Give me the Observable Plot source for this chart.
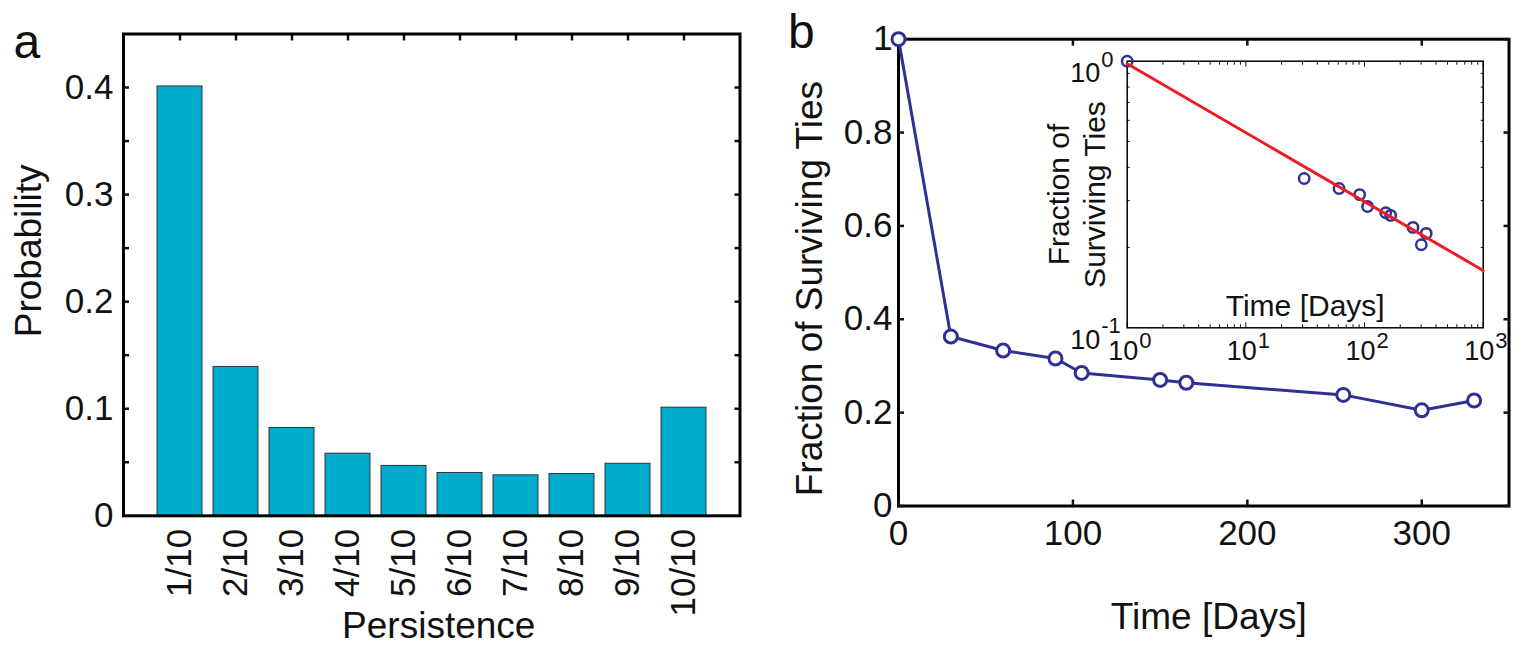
<!DOCTYPE html>
<html>
<head>
<meta charset="utf-8">
<script src="https://cdn.jsdelivr.net/npm/d3@7"></script>
<script src="https://cdn.jsdelivr.net/npm/@observablehq/plot@0.6"></script>
<style>
  html, body { margin: 0; padding: 0; background: #fff; }
  #root { position: relative; width: 1523px; height: 646px; overflow: hidden; }
  #root > svg { position: absolute; }
</style>
</head>
<body>
<div id="root"></div>
<script>
// ---------- Panel a data ----------
const persistence = ["1/10", "2/10", "3/10", "4/10", "5/10", "6/10", "7/10", "8/10", "9/10", "10/10"];
const probability = [0.401, 0.139, 0.082, 0.058, 0.0466, 0.040, 0.0378, 0.039, 0.0486, 0.101];
const probTicks = [0, 0.1, 0.2, 0.3, 0.4];
const probTickLabels = ["0", "0.1", "0.2", "0.3", "0.4"];
const probMinorTicks = [0.05, 0.1, 0.15, 0.2, 0.25, 0.3, 0.35, 0.4];

// ---------- Panel b data ----------
const days = [0, 30, 60, 90, 105, 150, 165, 255, 300, 330];
const surviving = [1, 0.363, 0.333, 0.316, 0.285, 0.27, 0.264, 0.238, 0.205, 0.226];
const dayTicks = [0, 100, 200, 300];
const dayTickLabels = ["0", "100", "200", "300"];
const survTicks = [0, 0.2, 0.4, 0.6, 0.8, 1];
const survTickLabels = ["0", "0.2", "0.4", "0.6", "0.8", "1"];

// ---------- Inset data (log-log) ----------
const insetDays = [1, 31, 61, 91, 106, 151, 166, 256, 301, 331];
const fitDays = [1, 1000];
const fitSurviving = [0.978, 0.164];
const logXTicks = [1, 10, 100, 1000];
const logXExponents = ["0", "1", "2", "3"];
const logXMinor = [2, 3, 4, 5, 6, 7, 8, 9, 20, 30, 40, 50, 60, 70, 80, 90, 200, 300, 400, 500, 600, 700, 800, 900];
const logYTicks = [0.1, 1];
const logYExponents = ["-1", "0"];
const logYMinor = [0.2, 0.3, 0.4, 0.5, 0.6, 0.7, 0.8, 0.9];

const FONT = '"Liberation Sans", Arial, Helvetica, sans-serif';
const INK = "#111";
const BAR = "#00abce";
const BLUE = "#2e3192";
const RED = "#ed1c24";

const root = document.getElementById("root");
function place(svg, left, top) {
  svg.style.left = left + "px";
  svg.style.top = top + "px";
  root.appendChild(svg);
}

// ================= Panel a =================
const barsData = persistence.map((c, i) => ({c, p: probability[i]}));
const A = Plot.plot({
  width: 760, height: 646,
  marginLeft: 123, marginRight: 20.5, marginTop: 33.5, marginBottom: 130.7,
  style: {fontFamily: FONT, color: INK, background: "transparent"},
  x: {type: "band", domain: persistence, paddingInner: 0.2, paddingOuter: 0.6},
  y: {domain: [0, 0.45]},
  marks: [
    Plot.barY(barsData, {x: "c", y: "p", fill: BAR, stroke: "#333", strokeWidth: 1}),
    Plot.axisY({anchor: "left", ticks: probMinorTicks, tickSize: -6, strokeWidth: 2.5, fill: "none", label: null}),
    Plot.axisY({anchor: "right", ticks: probMinorTicks, tickSize: -6, strokeWidth: 2.5, fill: "none", label: null}),
    Plot.axisX({anchor: "top", tickSize: -6, strokeWidth: 2.5, fill: "none", label: null}),
    Plot.axisY({anchor: "left", ticks: probTicks, tickSize: 0, tickPadding: 10,
      tickFormat: d => probTickLabels[probTicks.indexOf(d)], fontSize: 35, label: null}),
    Plot.text(persistence, {x: d => d, text: d => d, frameAnchor: "bottom", rotate: -90,
      textAnchor: "end", lineAnchor: "middle", dy: 13, fontSize: 35}),
    Plot.frame({stroke: "#000", strokeWidth: 3}),
    Plot.text(["Probability"], {text: d => d, frameAnchor: "left", rotate: -90, textAnchor: "middle",
      lineAnchor: "top", dx: -109, dy: -24, fontSize: 37}),
    Plot.text(["Persistence"], {text: d => d, frameAnchor: "bottom", textAnchor: "middle",
      lineAnchor: "top", dx: 7, dy: 96, fontSize: 37}),
    Plot.text(["a"], {text: d => d, frameAnchor: "top-left", textAnchor: "start",
      lineAnchor: "bottom", dx: -110, dy: 24, fontSize: 48})
  ]
});
place(A, 0, 0);

// ================= Panel b =================
const survData = days.map((t, i) => ({t, s: surviving[i]}));
const B = Plot.plot({
  width: 763, height: 646,
  marginLeft: 138, marginRight: 14.5, marginTop: 38.7, marginBottom: 140.5,
  style: {fontFamily: FONT, color: INK, background: "transparent"},
  x: {domain: [0, 350]},
  y: {domain: [0, 1]},
  marks: [
    Plot.frame({stroke: "#000", strokeWidth: 3}),
    Plot.axisY({anchor: "left", ticks: survTicks, tickSize: -6, strokeWidth: 2.5, fill: "none", label: null}),
    Plot.axisY({anchor: "right", ticks: survTicks, tickSize: -6, strokeWidth: 2.5, fill: "none", label: null}),
    Plot.axisX({anchor: "top", ticks: dayTicks, tickSize: -6, strokeWidth: 2.5, fill: "none", label: null}),
    Plot.axisX({anchor: "bottom", ticks: dayTicks, tickSize: -6, strokeWidth: 2.5, fill: "none", label: null}),
    Plot.axisY({anchor: "left", ticks: survTicks, tickSize: 0, tickPadding: 6,
      tickFormat: d => survTickLabels[survTicks.indexOf(d)], fontSize: 35, label: null}),
    Plot.axisX({anchor: "bottom", ticks: dayTicks, tickSize: 0, tickPadding: 14,
      tickFormat: d => dayTickLabels[dayTicks.indexOf(d)], fontSize: 35, label: null}),
    Plot.line(survData, {x: "t", y: "s", stroke: BLUE, strokeWidth: 3}),
    Plot.dot(survData, {x: "t", y: "s", r: 6.5, fill: "#fff", stroke: BLUE, strokeWidth: 3}),
    Plot.text(["Fraction of Surviving Ties"], {text: d => d, frameAnchor: "left", rotate: -90,
      textAnchor: "middle", lineAnchor: "top", dx: -103, dy: 16, fontSize: 37}),
    Plot.text(["Time [Days]"], {text: d => d, frameAnchor: "bottom", textAnchor: "middle",
      lineAnchor: "top", dx: 5, dy: 97, fontSize: 37}),
    Plot.text(["b"], {text: d => d, frameAnchor: "top-left", textAnchor: "start",
      lineAnchor: "bottom", dx: -110.5, dy: 8.3, fontSize: 48})
  ]
});
place(B, 760, 0);

// ================= Inset =================
const insetData = insetDays.map((t, i) => ({t, s: surviving[i]}));
const fitData = fitDays.map((t, i) => ({t, s: fitSurviving[i]}));
const C = Plot.plot({
  width: 523, height: 400,
  marginLeft: 126.7, marginRight: 40.3, marginTop: 60.7, marginBottom: 72.7,
  style: {fontFamily: FONT, color: INK, background: "transparent"},
  x: {type: "log", domain: [1, 1000]},
  y: {type: "log", domain: [0.1, 1]},
  marks: [
    Plot.frame({fill: "#fff", stroke: "none"}),
    Plot.axisX({anchor: "bottom", ticks: logXTicks, tickSize: -5, strokeWidth: 1, fill: "none", label: null}),
    Plot.axisX({anchor: "top", ticks: logXTicks, tickSize: -5, strokeWidth: 1, fill: "none", label: null}),
    Plot.axisX({anchor: "bottom", ticks: logXMinor, tickSize: -3, strokeWidth: 1, fill: "none", label: null}),
    Plot.axisX({anchor: "top", ticks: logXMinor, tickSize: -3, strokeWidth: 1, fill: "none", label: null}),
    Plot.axisY({anchor: "left", ticks: logYMinor, tickSize: -3, strokeWidth: 1, fill: "none", label: null}),
    Plot.axisY({anchor: "right", ticks: logYMinor, tickSize: -3, strokeWidth: 1, fill: "none", label: null}),
    Plot.frame({stroke: "#000", strokeWidth: 1.5}),
    Plot.text(logXTicks, {x: d => d, text: () => "10", frameAnchor: "bottom", textAnchor: "middle",
      lineAnchor: "top", dx: -4, dy: 13, fontSize: 27}),
    Plot.text(logXTicks, {x: d => d, text: d => logXExponents[logXTicks.indexOf(d)], frameAnchor: "bottom",
      textAnchor: "start", lineAnchor: "top", dx: 12, dy: 5, fontSize: 22}),
    Plot.text(logYTicks, {y: d => d, text: () => "10", frameAnchor: "left", textAnchor: "end",
      lineAnchor: "top", dx: -27, dy: 2, fontSize: 27}),
    Plot.text(logYTicks, {y: d => d, text: d => logYExponents[logYTicks.indexOf(d)], frameAnchor: "left",
      textAnchor: "start", lineAnchor: "top", dx: -26, dy: -10, fontSize: 22}),
    Plot.dot(insetData, {x: "t", y: "s", r: 5.2, fill: "none", stroke: BLUE, strokeWidth: 2.5}),
    Plot.line(fitData, {x: "t", y: "s", stroke: RED, strokeWidth: 3}),
    Plot.text(["Fraction of\nSurviving Ties"], {text: d => d, frameAnchor: "left", rotate: -90,
      textAnchor: "middle", lineAnchor: "top", lineHeight: 1.2, dx: -83.7, fontSize: 30}),
    Plot.text(["Time [Days]"], {text: d => d, frameAnchor: "bottom", textAnchor: "middle",
      lineAnchor: "bottom", dy: -12, fontSize: 30})
  ]
});
place(C, 1000, 0);
</script>
</body>
</html>
